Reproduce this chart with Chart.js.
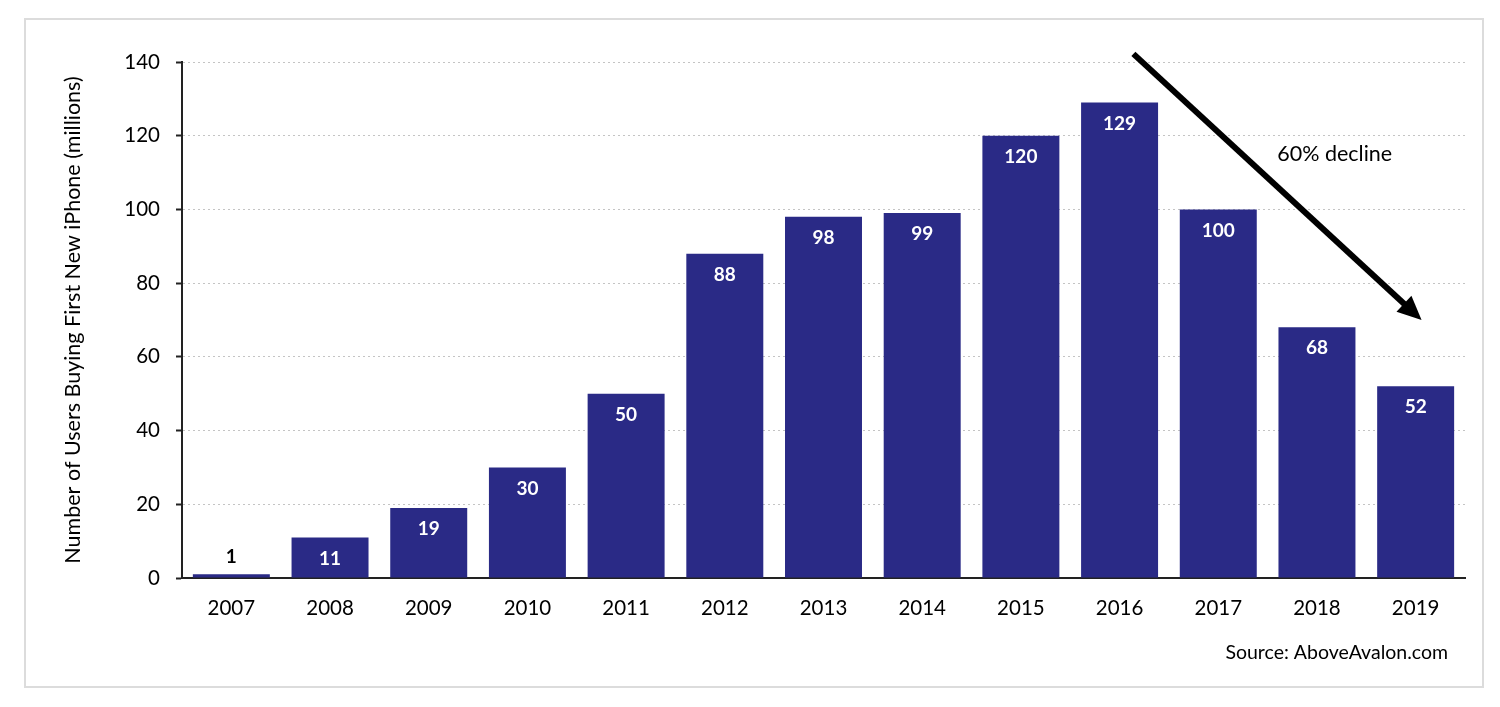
<!DOCTYPE html>
<html lang="en">
<head>
    <meta charset="UTF-8">
    <title>Users Buying First New iPhone</title>
    <script src="https://cdn.jsdelivr.net/npm/chart.js"></script>
    <style>
        html, body {
            margin: 0;
            padding: 0;
            background: #fff;
        }
        .chart-wrap {
            width: 1500px;
            height: 707px;
            position: relative;
        }
    </style>
</head>
<body>
    <div class="chart-wrap">
        <canvas id="usersChart"></canvas>
    </div>
<script>
// Data
const years = ['2007', '2008', '2009', '2010', '2011', '2012', '2013', '2014', '2015', '2016', '2017', '2018', '2019'];
const newUsers = [1, 11, 19, 30, 50, 88, 98, 99, 120, 129, 100, 68, 52];
const yTicks = [0, 20, 40, 60, 80, 100, 120, 140];

// Arrow annotation, in data space (category index, millions)
const arrowFrom = [9.14, 142.2];
const arrowTo = [12.06, 70];
const arrowLabel = '60% decline';
const arrowLabelAt = [11.18, 115];
const sourceText = 'Source: AboveAvalon.com';

const FONT = 'Lato, "Open Sans", sans-serif';
const BAR_COLOR = '#2a2a86';

// frame round the whole picture
const framePlugin = {
  id: 'frame',
  beforeDraw(chart) {
    const ctx = chart.ctx;
    ctx.save();
    ctx.fillStyle = '#fff';
    ctx.fillRect(0, 0, chart.width, chart.height);
    ctx.strokeStyle = '#dcdcdc';
    ctx.lineWidth = 2;
    ctx.strokeRect(25, 19, 1458, 668);
    ctx.restore();
  }
};

// value labels on the bars
const barLabels = {
  id: 'barLabels',
  afterDatasetsDraw(chart) {
    const ctx = chart.ctx;
    const meta = chart.getDatasetMeta(0);
    ctx.save();
    ctx.font = 'bold 19px ' + FONT;
    ctx.textAlign = 'center';
    ctx.textBaseline = 'middle';
    meta.data.forEach((bar, i) => {
      const v = newUsers[i];
      if (v < 5) {
        ctx.fillStyle = '#000';
        ctx.fillText(v, bar.x, bar.y - 17);
      } else {
        ctx.fillStyle = '#fff';
        ctx.fillText(v, bar.x, bar.y + 21);
      }
    });
    ctx.restore();
  }
};

// the decline arrow, its label and the source line
const notes = {
  id: 'notes',
  afterDraw(chart) {
    const ctx = chart.ctx;
    const xs = chart.scales.x, ys = chart.scales.y;
    const x1 = xs.getPixelForValue(arrowFrom[0]), y1 = ys.getPixelForValue(arrowFrom[1]);
    const x2 = xs.getPixelForValue(arrowTo[0]), y2 = ys.getPixelForValue(arrowTo[1]);
    const ang = Math.atan2(y2 - y1, x2 - x1);
    const headLen = 24, headHalf = 11;
    const bx = x2 - headLen * Math.cos(ang), by = y2 - headLen * Math.sin(ang);

    ctx.save();
    ctx.strokeStyle = '#000';
    ctx.fillStyle = '#000';
    ctx.lineWidth = 6;
    ctx.beginPath();
    ctx.moveTo(x1, y1);
    ctx.lineTo(bx + 2 * Math.cos(ang), by + 2 * Math.sin(ang));
    ctx.stroke();

    ctx.beginPath();
    ctx.moveTo(x2, y2);
    ctx.lineTo(bx + headHalf * Math.sin(ang), by - headHalf * Math.cos(ang));
    ctx.lineTo(bx - headHalf * Math.sin(ang), by + headHalf * Math.cos(ang));
    ctx.closePath();
    ctx.fill();

    ctx.font = '21.5px ' + FONT;
    ctx.textAlign = 'center';
    ctx.textBaseline = 'middle';
    ctx.fillText(arrowLabel, xs.getPixelForValue(arrowLabelAt[0]), ys.getPixelForValue(arrowLabelAt[1]));

    ctx.font = '19.5px ' + FONT;
    ctx.textAlign = 'right';
    ctx.fillText(sourceText, chart.chartArea.right - 17, 653);
    ctx.restore();
  }
};

const ctx = document.getElementById('usersChart').getContext('2d');
new Chart(ctx, {
  type: 'bar',
  data: {
    labels: years,
    datasets: [{
      data: newUsers,
      backgroundColor: BAR_COLOR,
      borderWidth: 0,
      categoryPercentage: 0.78,
      barPercentage: 1.0
    }]
  },
  options: {
    responsive: true,
    maintainAspectRatio: false,
    animation: false,
    layout: { padding: { top: 62, right: 35, bottom: 79, left: 0 } },
    plugins: {
      legend: { display: false },
      tooltip: { enabled: false }
    },
    scales: {
      x: {
        grid: { display: false, drawTicks: false },
        border: { display: true, color: '#222', width: 2 },
        ticks: {
          color: '#000',
          padding: 18,
          font: { family: FONT, size: 20.5 }
        },
        afterFit(scale) { scale.height = 50; }
      },
      y: {
        min: 0,
        max: 140,
        afterBuildTicks(scale) { scale.ticks = yTicks.map(v => ({ value: v })); },
        grid: {
          color: '#c4c4c4',
          lineWidth: 1,
          drawTicks: true,
          tickLength: 6,
          tickColor: '#222',
          tickWidth: 2,
          tickBorderDash: []
        },
        border: { display: true, color: '#222', width: 2, dash: [2, 3] },
        ticks: {
          color: '#000',
          padding: 16,
          font: { family: FONT, size: 20.5 }
        },
        title: {
          display: true,
          text: 'Number of Users Buying First New iPhone (millions)',
          color: '#000',
          font: { family: FONT, size: 21.5 },
          padding: { top: 60, bottom: 0 }
        },
        afterFit(scale) { scale.width = 182; }
      }
    }
  },
  plugins: [framePlugin, barLabels, notes]
});
</script>
</body>
</html>
